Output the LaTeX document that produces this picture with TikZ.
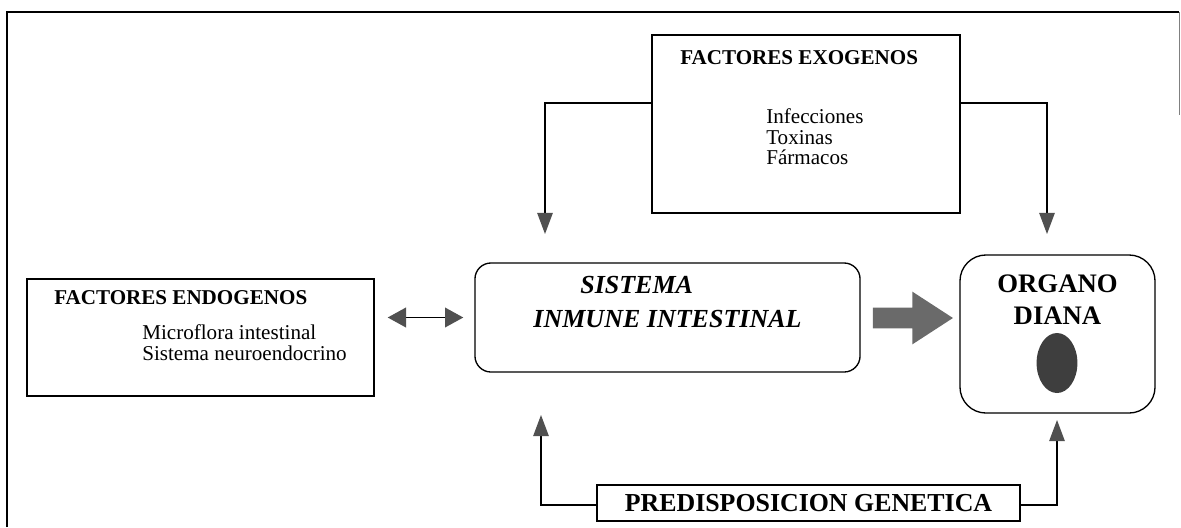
\documentclass[tikz,border=0pt]{standalone}
\usepackage{fontspec}
\setmainfont{Liberation Serif}
\usetikzlibrary{arrows.meta,shapes.geometric,shapes.arrows}
\definecolor{tipgray}{HTML}{505050}
\definecolor{thickgray}{HTML}{6A6A6A}
\definecolor{ellgray}{HTML}{3E3E3E}
\begin{document}
\begin{tikzpicture}[x=0.025cm,y=-0.025cm,
  box/.style={draw,line width=0.95pt,inner sep=0pt},
  conn/.style={line width=0.95pt,-{Triangle[length=15pt,width=11pt,fill=tipgray,color=tipgray]}},
  dbl/.style={line width=1.1pt,{Triangle[length=13pt,width=14pt,fill=tipgray,color=tipgray]}-{Triangle[length=13pt,width=14pt,fill=tipgray,color=tipgray]}},
  hdr/.style={font=\bfseries\fontsize{15}{18}\selectfont,inner sep=0pt},
  itm/.style={font=\fontsize{15}{18}\selectfont,inner sep=0pt,anchor=base west},
  big/.style={font=\bfseries\fontsize{19}{22}\selectfont,inner sep=0pt,anchor=base},
  bigit/.style={font=\bfseries\itshape\fontsize{18.5}{22}\selectfont,inner sep=0pt}]
\useasboundingbox (0,0) rectangle (1181,527);
% outer frame
\draw[line width=0.95pt] (7,527) -- (7,12) -- (1179,12);
\draw[line width=0.5pt,gray] (1179,12) -- (1179,115);
% boxes
\node[box,minimum width=7.7cm,minimum height=4.45cm] (exo) at (806,124) {};
\node[box,minimum width=8.675cm,minimum height=2.925cm] (endo) at (200.5,337.5) {};
\node[box,rounded corners=0.4cm,minimum width=9.625cm,minimum height=2.725cm] (sis) at (667.5,317.5) {};
\node[box,rounded corners=0.65cm,minimum width=4.875cm,minimum height=3.95cm] (org) at (1057.5,334) {};
\node[box,minimum width=10.575cm,minimum height=0.9cm] (pred) at (808.5,503) {};
% texts
\node[hdr,anchor=base west] (exoT) at (680,64) {FACTORES EXOGENOS};
\node[itm] (i1) at (766,123) {Infecciones};
\node[itm] (i2) at (766,144) {Toxinas};
\node[itm] (i3) at (766,164) {Fármacos};
\node[hdr,anchor=base west] (endoT) at (54,304) {FACTORES ENDOGENOS};
\node[itm] (e1) at (142,339) {Microflora intestinal};
\node[itm] (e2) at (142,360) {Sistema neuroendocrino};
\node[bigit,anchor=base west] (s1) at (580,293) {SISTEMA};
\node[bigit,anchor=base] (s2) at (667.5,327) {INMUNE INTESTINAL};
\node[big] (o1) at (1057.5,292) {ORGANO};
\node[big] (o2) at (1057.5,324) {DIANA};
\node[ellipse,fill=ellgray,minimum width=1.02cm,minimum height=1.5cm,inner sep=0pt] (ell) at (1057,363) {};
\node[font=\bfseries\fontsize{18.4}{22}\selectfont,inner sep=0pt,anchor=base] (pT) at (808.5,511) {PREDISPOSICION GENETICA};
% connectors
\coordinate (t1) at (545,234);
\coordinate (t2) at (1047,234);
\coordinate (t3) at (541,415);
\coordinate (t4) at (1057,420);
\draw[conn] ([yshift=0.525cm]exo.west) -| (t1);
\draw[conn] ([yshift=0.525cm]exo.east) -| (t2);
\draw[conn] ([yshift=-0.05cm]pred.west) -| (t3);
\draw[conn] ([yshift=-0.05cm]pred.east) -| (t4);
\draw[dbl,shorten <=0.325cm,shorten >=0.275cm] (endo.east |- sis.west) -- (sis.west);
\node[single arrow,fill=thickgray,draw=none,inner sep=0.25cm,minimum height=2cm,single arrow head extend=0.4cm,single arrow tip angle=66,anchor=center] (thk) at (905,318) {};
\end{tikzpicture}
\end{document}
